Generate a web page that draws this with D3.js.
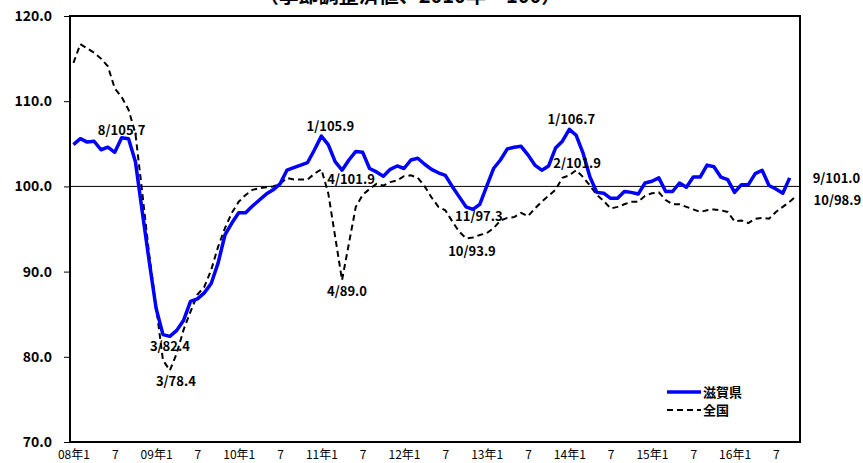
<!DOCTYPE html>
<html>
<head>
<meta charset="utf-8">
<script src="https://cdn.jsdelivr.net/npm/d3@7"></script>
<style>
  body { margin: 0; background: #fff; }
  text { font-family: "Noto Sans CJK JP", "Noto Sans", sans-serif; }
</style>
</head>
<body>
<div id="chart"></div>
<script>
// Data: monthly index, Jan 2008 - Oct 2016 (2010 = 100, seasonally adjusted)
const seriesNames = ["滋賀県", "全国"]

const shiga = [
  104.9, 105.6, 105.2, 105.3, 104.3, 104.6, 104.0, 105.7, 105.6, 102.9, 97.0, 91.2,
  85.7, 82.6, 82.4, 83.1, 84.3, 86.5, 86.8, 87.5, 88.6, 91.0, 94.3, 95.7,
  96.9, 96.9, 97.7, 98.4, 99.1, 99.6, 100.3, 101.9, 102.2, 102.5, 102.8, 104.3,
  105.9, 104.9, 102.9, 101.9, 103.1, 104.1, 104.0, 102.1, 101.7, 101.2, 102.0, 102.4,
  102.1, 103.1, 103.3, 102.6, 102.0, 101.6, 101.3, 100.0, 98.8, 97.6, 97.3, 97.9,
  100.0, 102.1, 103.1, 104.4, 104.6, 104.7, 103.7, 102.5, 101.9, 102.4, 104.5, 105.3,
  106.7, 106.0, 103.9, 101.1, 99.3, 99.2, 98.6, 98.6, 99.4, 99.3, 99.1, 100.4,
  100.6, 101.0, 99.4, 99.4, 100.4, 99.9, 101.1, 101.1, 102.5, 102.3, 101.1, 100.8,
  99.3, 100.2, 100.2, 101.5, 101.9, 100.1, 99.7, 99.2, 101.0
]

const national = [
  114.5, 116.7, 116.2, 115.7, 115.0, 114.1, 111.5, 110.5, 109.0, 106.2, 99.2, 92.0,
  85.9, 79.6, 78.4, 80.4, 83.2, 85.3, 87.3, 88.2, 90.2, 92.9, 95.1, 96.9,
  98.2, 99.0, 99.6, 99.8, 99.9, 100.0, 100.3, 101.0, 100.8, 100.8, 100.8, 101.5,
  102.0, 99.2, 94.1, 89.0, 93.3, 97.6, 99.0, 99.7, 100.3, 100.1, 100.5, 100.7,
  101.2, 101.3, 101.0, 100.0, 98.7, 97.6, 97.2, 95.9, 94.7, 93.9, 94.0, 94.3,
  94.5, 95.1, 96.0, 96.3, 96.4, 96.9, 96.5, 97.4, 98.2, 98.9, 99.6, 101.0,
  101.3, 101.9, 101.1, 100.1, 99.0, 98.3, 97.4, 97.6, 97.9, 98.2, 98.2, 98.9,
  99.2, 99.3, 98.4, 97.9, 97.9, 97.6, 97.3, 97.0, 97.2, 97.3, 97.2, 97.0,
  95.9, 96.0, 95.7, 96.2, 96.3, 96.2, 97.0, 97.6, 98.2, 98.9
]

const xTickLabels = ["08年1", "7", "09年1", "7", "10年1", "7", "11年1", "7", "12年1", "7",
  "13年1", "7", "14年1", "7", "15年1", "7", "16年1", "7"]
const yTicks = [70, 80, 90, 100, 110, 120]

// annotations: [series, month index, label]
const notes = [
  ["shiga", 7, "8/105.7"], ["shiga", 14, "3/82.4"], ["national", 14, "3/78.4"],
  ["shiga", 36, "1/105.9"], ["shiga", 39, "4/101.9"], ["national", 39, "4/89.0"],
  ["shiga", 58, "11/97.3"], ["national", 57, "10/93.9"], ["shiga", 72, "1/106.7"],
  ["national", 73, "2/101.9"], ["shiga", 104, "9/101.0"], ["national", 105, "10/98.9"]
]

// months as categories
const months = []
for (let yr = 2008; yr <= 2016; yr++) {
  for (let m = 1; m <= 12; m++) months.push(yr + "-" + m)
}
months.splice(106)

const W = 863, H = 463
const margin = { top: 16, right: 63, bottom: 21, left: 70 }
const width = W - margin.left - margin.right
const height = H - margin.top - margin.bottom

const svg = d3.select("#chart").append("svg")
    .attr("width", W)
    .attr("height", H)

// title (cut off at top in the original)
svg.append("text")
    .attr("x", 410)
    .attr("y", 3)
    .attr("text-anchor", "middle")
    .style("font-size", "20px")
    .style("font-weight", "bold")
    .text("（季節調整済値、2010年＝100）")

const g = svg.append("g")
    .attr("transform", "translate(" + margin.left + "," + margin.top + ")")

const x = d3.scalePoint()
    .domain(d3.range(months.length))
    .range([0, width])
    .padding(0.5)

const y = d3.scaleLinear()
    .domain([70, 120])
    .range([height, 0])

// y axis
const yAxis = g.append("g")
    .call(d3.axisLeft(y).tickValues(yTicks).tickFormat(d3.format(".1f")).tickSize(6).tickPadding(12))
yAxis.select(".domain").remove()
yAxis.selectAll("line").attr("stroke", "#000")
yAxis.selectAll("text")
    .style("font-size", "14px")
    .style("font-weight", "bold")
    .style("font-family", "'Noto Sans CJK JP', sans-serif")
    .attr("fill", "#000")

// x axis labels
const xAxis = g.append("g")
    .attr("transform", "translate(0," + height + ")")
    .call(d3.axisBottom(x)
      .tickValues(d3.range(0, months.length, 6))
      .tickFormat((d, i) => xTickLabels[i])
      .tickSize(0)
      .tickPadding(8))
xAxis.select(".domain").remove()
xAxis.selectAll("text")
    .style("font-size", "12px")
    .style("font-family", "'Noto Sans CJK JP', sans-serif")
    .attr("fill", "#000")

// plot frame
g.append("rect")
    .attr("width", width)
    .attr("height", height)
    .attr("fill", "none")
    .attr("stroke", "#000")
    .attr("stroke-width", 2)

// 100 reference line
g.append("line")
    .attr("x1", 0)
    .attr("x2", width)
    .attr("y1", y(100))
    .attr("y2", y(100))
    .attr("stroke", "#000")
    .attr("stroke-width", 1)

const line = d3.line()
    .x((d, i) => x(i))
    .y(d => y(d))

g.append("path")
    .datum(national)
    .attr("d", line)
    .attr("fill", "none")
    .attr("stroke", "#000")
    .attr("stroke-width", 2)
    .attr("stroke-dasharray", "6,4")

g.append("path")
    .datum(shiga)
    .attr("d", line)
    .attr("fill", "none")
    .attr("stroke", "#0000ff")
    .attr("stroke-width", 3.5)
    .attr("stroke-linejoin", "round")

// label offsets, in the same order as notes
const noteOffsets = [
  [0, -3, "middle"], [0, 15, "middle"], [6, 16, "middle"],
  [9, -5, "middle"], [9, 14, "middle"], [5, 16, "middle"],
  [6, 12, "middle"], [6, 18, "middle"], [2, -5, "middle"],
  [1, -2, "middle"], [23, 5, "start"], [17, 9, "start"]
]

g.selectAll(".note")
    .data(notes)
    .join("text")
    .attr("class", "note")
    .attr("x", (d, i) => x(d[1]) + noteOffsets[i][0])
    .attr("y", (d, i) => y((d[0] === "shiga" ? shiga : national)[d[1]]) + noteOffsets[i][1])
    .attr("text-anchor", (d, i) => noteOffsets[i][2])
    .style("font-size", "13px")
    .style("font-weight", "bold")
    .text(d => d[2])

// legend
const legend = g.append("g")
    .attr("transform", "translate(597,376)")
legend.append("line")
    .attr("x1", 0).attr("x2", 34).attr("y1", 0).attr("y2", 0)
    .attr("stroke", "#0000ff").attr("stroke-width", 3.5)
legend.append("line")
    .attr("x1", 0).attr("x2", 34).attr("y1", 18).attr("y2", 18)
    .attr("stroke", "#000").attr("stroke-width", 2).attr("stroke-dasharray", "6,4")
legend.selectAll(".leg")
    .data(seriesNames)
    .join("text")
    .attr("class", "leg")
    .attr("x", 36)
    .attr("y", (d, i) => i * 18 + 5)
    .style("font-size", "13px")
    .style("font-weight", "bold")
    .text(d => d)
</script>
</body>
</html>
